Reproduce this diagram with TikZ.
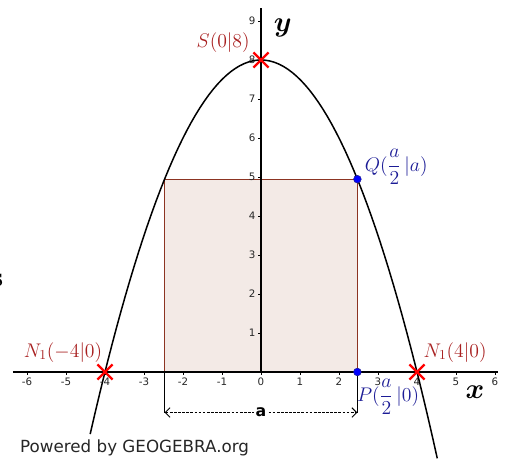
\documentclass[tikz,border=0pt]{standalone}
\usepackage{fontspec}
\setsansfont{DejaVu Sans}
\usepackage{amsmath, bm}
\usetikzlibrary{arrows.meta, positioning, shapes.misc}
\definecolor{LabelRed}{HTML}{A82020}
\definecolor{CrossRed}{HTML}{FF0000}
\definecolor{LabelBlue}{HTML}{1C1C96}
\definecolor{RectBrown}{HTML}{8C3422}
\definecolor{RectFill}{HTML}{F3EAE6}

\begin{document}
\begin{tikzpicture}[
  axis/.style={line width=1.4pt},
  graph/.style={line width=1.1pt},
  tick/.style={font=\sffamily\fontsize{7.5}{8}\selectfont, text=black!85, inner sep=1pt},
  axislabel/.style={font=\fontsize{20}{24}\selectfont, inner sep=1pt},
  redlabel/.style={text=LabelRed, font=\fontsize{14}{16}\selectfont, inner sep=1pt},
  bluelabel/.style={text=LabelBlue, font=\fontsize{14}{16}\selectfont, inner sep=1pt},
  crossmark/.style={cross out, draw=CrossRed, line width=1.6pt, minimum size=9.5pt, inner sep=0pt},
  dot/.style={circle, fill=blue, draw=LabelBlue, inner sep=0pt, minimum size=5.6pt},
  >=Stealth
]
  \useasboundingbox (-6.692,-2.231) rectangle (6.410,9.538);

  % rectangle under the parabola
  \filldraw[fill=RectFill, draw=RectBrown, line width=0.9pt] (-2.472,0) rectangle (2.472,4.944);

  % axes and ticks
  \draw[axis] (-6.36,0) -- (6.08,0);
  \draw[axis] (0,0) -- (0,9.33);
  \foreach \i in {-6,...,6} {
    \draw[line width=0.6pt] (\i,0) -- (\i,-0.08);
    \node[tick, below] (xt\i) at (\i,-0.1) {\i};
  }
  \foreach \i in {1,...,9} {
    \draw[line width=0.6pt] (0,\i) -- (-0.08,\i);
    \node[tick, left] (yt\i) at (-0.1,\i) {\i};
  }
  \node[axislabel] (xlab) at (5.49,-0.51) {$\bm{x}$};
  \node[axislabel] (ylab) at (0.56,8.82) {$\bm{y}$};

  % parabola
  \draw[graph, domain=-4.38:4.52, samples=80] plot (\x, {8-0.5*\x*\x});

  % width a
  \coordinate (dl) at (-2.472,-1.04);
  \coordinate (dr) at (2.472,-1.04);
  \draw[line width=0.7pt] (-2.472,0) -- (dl);
  \draw[line width=0.7pt] (2.472,0) -- (dr);
  \draw[line width=0.7pt, dash pattern=on 2pt off 1pt,
    {Straight Barb[length=3.5pt, width=7pt]}-{Straight Barb[length=3.5pt, width=7pt]}] (dl) -- (dr)
    node[midway, fill=white, font=\sffamily\bfseries\fontsize{11.5}{12}\selectfont, inner sep=1pt] (alab) {a};

  % points
  \node[crossmark] (S) at (0,8) {};
  \node[crossmark] (NL) at (-4,0) {};
  \node[crossmark] (NR) at (4,0) {};
  \node[dot] (Q) at (2.472,4.944) {};
  \node[dot] (P) at (2.472,0) {};

  \node[redlabel, anchor=east] (Slab) at (-0.25,8.44) {$S(0|8)$};
  \node[redlabel, anchor=east] (NLlab) at (-4.03,0.51) {$N_1(-4|0)$};
  \node[redlabel, anchor=west] (NRlab) at (4.13,0.51) {$N_1(4|0)$};
  \node[bluelabel, anchor=west] (Qlab) at (2.62,5.26) {$Q(\dfrac{a}{2}\,|a)$};
  \node[bluelabel, anchor=west] (Plab) at (2.42,-0.64) {$P(\dfrac{a}{2}\,|0)$};

  \node[font=\sffamily\fontsize{12.2}{14}\selectfont, text=black!85, anchor=west, inner sep=0pt] (credit) at (-6.18,-1.95) {Powered by GEOGEBRA.org};
  \node[font=\bfseries\fontsize{20}{22}\selectfont, anchor=east, inner sep=0pt] (cut) at (-6.60,2.35) {s};
\end{tikzpicture}
\end{document}
